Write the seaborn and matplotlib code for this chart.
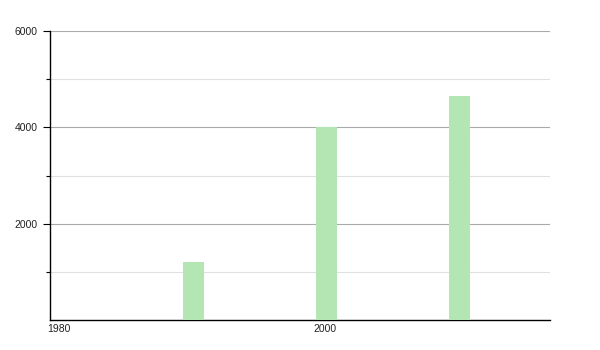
import matplotlib
matplotlib.use("Agg")
import matplotlib.pyplot as plt
import matplotlib.transforms as mtransforms
import seaborn as sns
from matplotlib.ticker import FixedLocator

years = [1990, 2000, 2010]
values = [1200, 4000, 4660]
x_ticks = [1980, 2000]
y_major = [2000, 4000, 6000]
y_minor = [1000, 3000, 5000]

sns.set_style("white")
plt.rcParams['font.family'] = ['Liberation Sans', 'DejaVu Sans']

fig = plt.figure(figsize=(6, 3.5), dpi=100)
ax = fig.add_axes([50/600, 1-320/350, 500/600, 289/350])

sns.barplot(x=years, y=values, native_scale=True, width=0.158,
            color="#b3e6b3", saturation=1, ax=ax, zorder=3)
for p in ax.patches:
    p.set_x(p.get_x() + p.get_width() / 2)
    p.set_edgecolor("none")

ax.set_xlim(1980, 2017.6)
ax.set_ylim(0, 6000)
ax.set_xticks(x_ticks)
ax.set_xticklabels([str(t) for t in x_ticks], ha="left")
ax.set_yticks(y_major)
ax.set_yticklabels([str(t) for t in y_major])
ax.yaxis.set_minor_locator(FixedLocator(y_minor))

ax.grid(False)
ax.grid(True, axis="y", which="major", color="#aaaaaa", linewidth=0.8, zorder=0)
ax.grid(True, axis="y", which="minor", color="#e0e0e0", linewidth=0.8, zorder=0)
ax.set_axisbelow(True)

for s in ["top", "right"]:
    ax.spines[s].set_visible(False)
for s in ["left", "bottom"]:
    ax.spines[s].set_color("black")
    ax.spines[s].set_linewidth(1.0)

ax.tick_params(axis="y", which="major", length=5, width=0.8, color="black",
               labelsize=7.5, labelcolor="#222222", pad=4, left=True)
ax.tick_params(axis="y", which="minor", length=3, width=0.8, color="black", left=True)
ax.tick_params(axis="x", which="both", length=0, labelsize=7.5, labelcolor="#222222", pad=3)

shift = mtransforms.ScaledTranslation(-2.5/100, 0, fig.dpi_scale_trans)
for lbl in ax.get_xticklabels():
    lbl.set_transform(lbl.get_transform() + shift)

ax.set_xlabel("")
ax.set_ylabel("")

fig.savefig("out.png", dpi=100)
